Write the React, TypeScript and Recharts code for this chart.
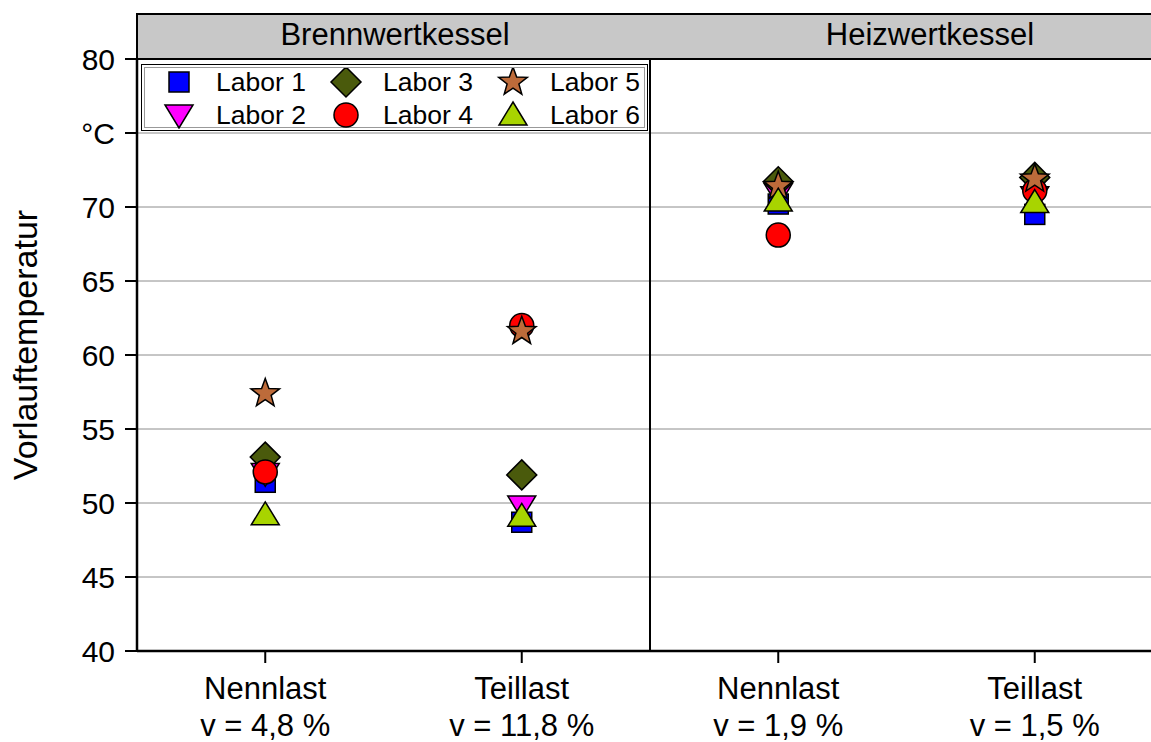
import React from "react";
import {
  ScatterChart,
  Scatter,
  XAxis,
  YAxis,
  CartesianGrid,
  ReferenceLine,
} from "recharts";

const categories = ["Nennlast", "Teillast", "Nennlast", "Teillast"];
const subLabels = ["v = 4,8 %", "v = 11,8 %", "v = 1,9 %", "v = 1,5 %"];
const groups = ["Brennwertkessel", "Heizwertkessel"];
const yTicks = [40, 45, 50, 55, 60, 65, 70, 75, 80];

const labor1 = [51.4, 48.7, 70.2, 69.5];
const labor2 = [52.0, 49.8, 70.9, 70.7];
const labor3 = [53.1, 51.9, 71.7, 72.0];
const labor4 = [52.1, 62.0, 68.1, 71.1];
const labor5 = [57.4, 61.6, 71.4, 71.9];
const labor6 = [49.2, 49.1, 70.4, 70.3];

const FONT = "Arial, 'Liberation Sans', sans-serif";

type Kind = "square" | "triDown" | "diamond" | "circle" | "star" | "triUp";

const series: { name: string; values: number[]; color: string; kind: Kind }[] = [
  { name: "Labor 1", values: labor1, color: "#0000ff", kind: "square" },
  { name: "Labor 2", values: labor2, color: "#ff00ff", kind: "triDown" },
  { name: "Labor 3", values: labor3, color: "#4a5a0c", kind: "diamond" },
  { name: "Labor 4", values: labor4, color: "#ff0000", kind: "circle" },
  { name: "Labor 5", values: labor5, color: "#bd6b3a", kind: "star" },
  { name: "Labor 6", values: labor6, color: "#a8d400", kind: "triUp" },
];

const Marker = ({ cx, cy, kind, color }: { cx: number; cy: number; kind: Kind; color: string }) => {
  const common = { fill: color, stroke: "#000", strokeWidth: 1.5 };
  switch (kind) {
    case "square":
      return <rect x={cx - 10} y={cy - 10} width={20} height={20} {...common} />;
    case "triDown":
      return <path d={`M${cx - 14},${cy - 10}L${cx + 14},${cy - 10}L${cx},${cy + 13}Z`} {...common} />;
    case "triUp":
      return <path d={`M${cx},${cy - 13}L${cx + 14},${cy + 10}L${cx - 14},${cy + 10}Z`} {...common} />;
    case "diamond":
      return <path d={`M${cx},${cy - 15}L${cx + 15},${cy}L${cx},${cy + 15}L${cx - 15},${cy}Z`} {...common} />;
    case "circle":
      return <circle cx={cx} cy={cy} r={12} {...common} />;
    case "star": {
      const pts: string[] = [];
      for (let i = 0; i < 10; i++) {
        const r = i % 2 === 0 ? 15 : 6.2;
        const a = -Math.PI / 2 + (i * Math.PI) / 5;
        pts.push(`${cx + r * Math.cos(a)},${cy + r * Math.sin(a)}`);
      }
      return <polygon points={pts.join(" ")} {...common} />;
    }
  }
  return null;
};

const XTick = ({ x, y, payload }: any) => {
  const i = Math.floor(payload.value);
  return (
    <g>
      <text x={x} y={y + 36} textAnchor="middle" fontSize={31} fontFamily={FONT} fill="#000">
        {categories[i]}
      </text>
      <text x={x} y={y + 73} textAnchor="middle" fontSize={31} fontFamily={FONT} fill="#000">
        {subLabels[i]}
      </text>
    </g>
  );
};

const YTick = ({ x, y, payload }: any) => (
  <text x={x} y={y + 11} textAnchor="end" fontSize={30} fontFamily={FONT} fill="#000">
    {payload.value === 75 ? "°C" : payload.value}
  </text>
);

const LegendBox = () => (
  <div
    style={{
      position: "absolute",
      left: 141,
      top: 64,
      width: 507,
      height: 67,
      boxSizing: "border-box",
      border: "1px solid #000",
      background: "#fff",
      padding: 2,
    }}
  >
    <div style={{ width: "100%", height: "100%", boxSizing: "border-box", border: "1px solid #999" }}>
      <svg width={501} height={61} style={{ display: "block" }}>
        {series.map((s, i) => {
          const col = Math.floor(i / 2);
          const row = i % 2;
          const mx = 34 + col * 167;
          const my = 14 + row * 33;
          return (
            <g key={s.name}>
              <Marker cx={mx} cy={my} kind={s.kind} color={s.color} />
              <text x={mx + 37} y={my + 9} fontSize={26.5} fontFamily={FONT} fill="#000">
                {s.name}
              </text>
            </g>
          );
        })}
      </svg>
    </div>
  </div>
);

export default function App() {
  return (
    <div
      style={{
        position: "fixed",
        left: 0,
        top: 0,
        width: 1151,
        height: 742,
        overflow: "hidden",
        background: "#fff",
      }}
    >
      <ScatterChart width={1190} height={742} margin={{ top: 59, right: 27, bottom: 0, left: 0 }}>
        <CartesianGrid horizontal vertical={false} stroke="#8c8c8c" strokeWidth={1} />
        <XAxis
          type="number"
          dataKey="x"
          domain={[0, 4]}
          ticks={[0.5, 1.5, 2.5, 3.5]}
          height={91}
          tickSize={12}
          tickMargin={0}
          axisLine={{ stroke: "#000", strokeWidth: 2.5 }}
          tickLine={{ stroke: "#000", strokeWidth: 2 }}
          tick={<XTick />}
          interval={0}
        />
        <YAxis
          type="number"
          dataKey="y"
          domain={[40, 80]}
          ticks={yTicks}
          width={137}
          tickSize={12}
          tickMargin={10}
          axisLine={{ stroke: "#000", strokeWidth: 2.5 }}
          tickLine={{ stroke: "#000", strokeWidth: 2 }}
          tick={<YTick />}
          interval={0}
          label={{
            content: () => (
              <text
                transform="translate(37,345) rotate(-90)"
                textAnchor="middle"
                fontSize={34}
                fontFamily={FONT}
                fill="#000"
              >
                Vorlauftemperatur
              </text>
            ),
          }}
        />
        <ReferenceLine x={2} stroke="#000" strokeWidth={2} />
        {series.map((s) => (
          <Scatter
            key={s.name}
            name={s.name}
            data={s.values.map((v, i) => ({ x: i + 0.5, y: v }))}
            isAnimationActive={false}
            shape={(p: any) => <Marker cx={p.cx} cy={p.cy} kind={s.kind} color={s.color} />}
          />
        ))}
      </ScatterChart>
      <LegendBox />
      <div
        style={{
          position: "absolute",
          left: 136,
          top: 13,
          width: 1100,
          height: 47,
          boxSizing: "border-box",
          background: "#c8c8c8",
          borderTop: "2.5px solid #000",
          borderBottom: "2.5px solid #000",
          borderLeft: "2.5px solid #000",
          fontFamily: FONT,
          fontSize: 31,
          lineHeight: "38px",
        }}
      >
        <div style={{ position: "absolute", left: 0, width: 514, top: 1, textAlign: "center" }}>{groups[0]}</div>
        <div style={{ position: "absolute", left: 686, width: 212, top: 1, textAlign: "center" }}>{groups[1]}</div>
      </div>
    </div>
  );
}
